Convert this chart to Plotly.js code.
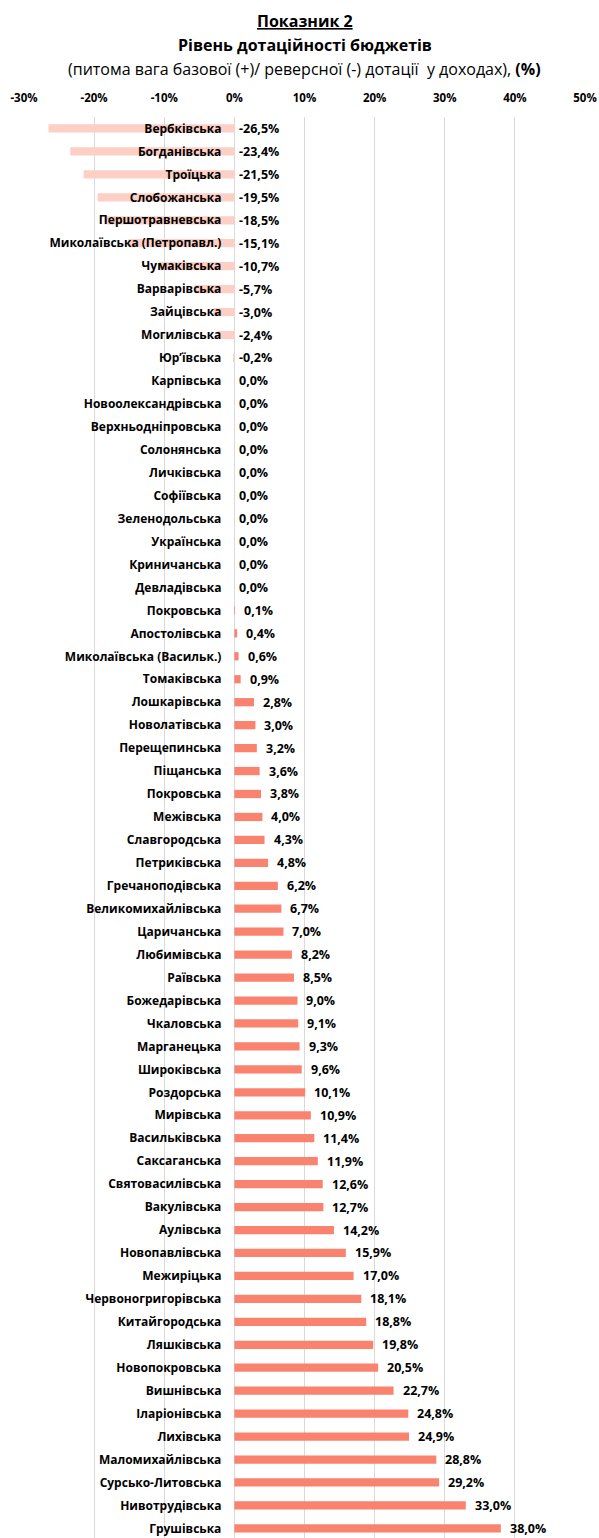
<!DOCTYPE html>
<html>
<head>
<meta charset="utf-8">
<script src="https://cdn.plot.ly/plotly-3.0.1.min.js"></script>
<style>html,body{margin:0;padding:0;background:#fff;}</style>
</head>
<body>
<div id="chart" style="width:599px;height:1538px;"></div>
<script>
const categories = [
  "Вербківська","Богданівська","Троїцька","Слобожанська","Першотравневська",
  "Миколаївська (Петропавл.)","Чумаківська","Варварівська","Зайцівська","Могилівська",
  "Юр’ївська","Карпівська","Новоолександрівська","Верхньодніпровська","Солонянська",
  "Личківська","Софіївська","Зеленодольська","Українська","Криничанська",
  "Девладівська","Покровська","Апостолівська","Миколаївська (Васильк.)","Томаківська",
  "Лошкарівська","Новолатівська","Перещепинська","Піщанська","Покровська",
  "Межівська","Славгородська","Петриківська","Гречаноподівська","Великомихайлівська",
  "Царичанська","Любимівська","Раївська","Божедарівська","Чкаловська",
  "Марганецька","Широківська","Роздорська","Мирівська","Васильківська",
  "Саксаганська","Святовасилівська","Вакулівська","Аулівська","Новопавлівська",
  "Межиріцька","Червоногригорівська","Китайгородська","Ляшківська","Новопокровська",
  "Вишнівська","Іларіонівська","Лихівська","Маломихайлівська","Сурсько-Литовська",
  "Нивотрудівська","Грушівська"
];
const values = [
  -26.5,-23.4,-21.5,-19.5,-18.5,
  -15.1,-10.7,-5.7,-3.0,-2.4,
  -0.2,0.0,0.0,0.0,0.0,
  0.0,0.0,0.0,0.0,0.0,
  0.0,0.1,0.4,0.6,0.9,
  2.8,3.0,3.2,3.6,3.8,
  4.0,4.3,4.8,6.2,6.7,
  7.0,8.2,8.5,9.0,9.1,
  9.3,9.6,10.1,10.9,11.4,
  11.9,12.6,12.7,14.2,15.9,
  17.0,18.1,18.8,19.8,20.5,
  22.7,24.8,24.9,28.8,29.2,
  33.0,38.0
];
const xTickVals = [-30,-20,-10,0,10,20,30,40,50];
const xTickText = ["-30%","-20%","-10%","0%","10%","20%","30%","40%","50%"];

const FONT = "'Open Sans', 'Noto Sans', sans-serif";
const pos = categories.map((c,i)=>i);
const colors = values.map(v => v < 0 ? "#FDCFC5" : "#F9836F");
const labels = values.map(v => v.toFixed(1).replace(".", ",") + "%");

const valueAnnotations = values.map((v,i) => ({
  xref: "x", yref: "y", x: Math.max(v, 0), y: i,
  xanchor: "left", yanchor: "middle",
  xshift: v > 0 ? 7 : 3, yshift: 0,
  text: "<b>" + labels[i] + "</b>", showarrow: false,
  font: {family: FONT, size: 12.5, color: "#000"}
}));

const traces = [
  {
    type: "bar", orientation: "h",
    x: values, y: pos,
    marker: {color: colors},
    width: 0.36,
    hoverinfo: "skip"
  }
];

const titleAnnotations = [
  {xref: "paper", yref: "paper", x: 0.5, y: 1, yshift: 96, xanchor: "center", yanchor: "middle",
   text: "<b><span style=\"text-decoration:underline\">Показник 2</span></b>", showarrow: false,
   font: {family: FONT, size: 16, color: "#000"}},
  {xref: "paper", yref: "paper", x: 0.5, y: 1, yshift: 72, xanchor: "center", yanchor: "middle",
   text: "<b>Рівень дотаційності бюджетів</b>", showarrow: false,
   font: {family: FONT, size: 16, color: "#000"}},
  {xref: "paper", yref: "paper", x: 0.5, y: 1, yshift: 48, xanchor: "center", yanchor: "middle",
   text: "(питома вага базової (+)/ реверсної (-) дотації  у доходах), <b>(%)</b>", showarrow: false,
   font: {family: FONT, size: 16, color: "#000"}}
];

const layout = {
  width: 599, height: 1538,
  margin: {l: 24, r: 14, t: 117, b: 0},
  paper_bgcolor: "#fff", plot_bgcolor: "#fff",
  showlegend: false,
  font: {family: FONT, color: "#000"},
  xaxis: {
    range: [-30, 50], side: "top",
    tickvals: xTickVals, ticktext: xTickText,
    showgrid: true, gridcolor: "#D9D9D9", gridwidth: 1,
    zeroline: false, showline: false, ticks: "",
    ticklabelstandoff: 12,
    tickfont: {family: FONT, size: 11.5, color: "#000", weight: "bold"},
    fixedrange: true
  },
  yaxis: {
    range: [61.42, -0.5],
    tickvals: pos, ticktext: categories,
    anchor: "free", position: 0.375,
    showgrid: false, zeroline: false, showline: false, ticks: "",
    ticklabelstandoff: 13,
    ticklabeloverflow: "allow",
    tickfont: {family: FONT, size: 12, color: "#000", weight: "bold"},
    fixedrange: true
  },
  annotations: titleAnnotations.concat(valueAnnotations)
};

Plotly.newPlot("chart", traces, layout, {displayModeBar: false, staticPlot: true});
</script>
</body>
</html>
